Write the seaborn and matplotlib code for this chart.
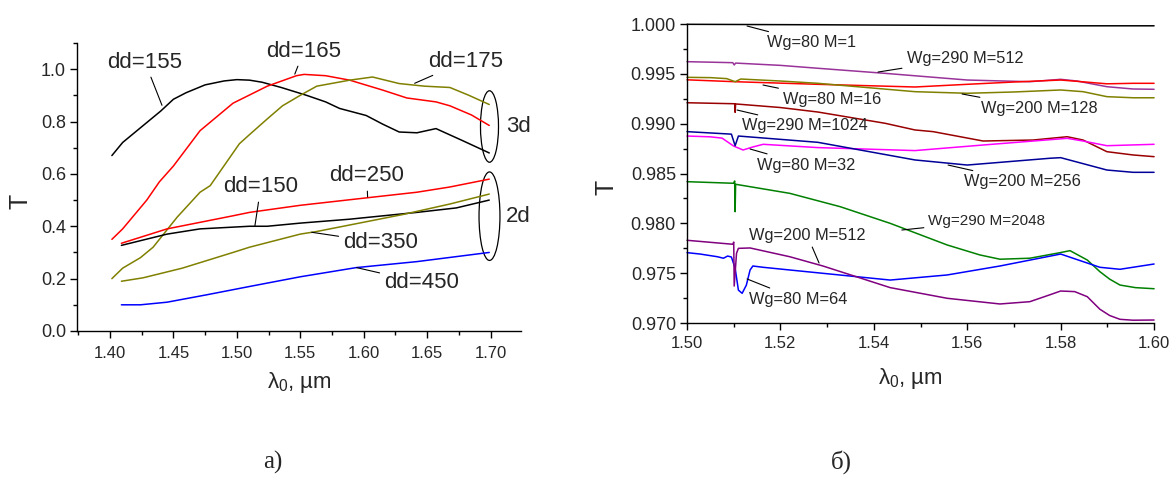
import matplotlib
matplotlib.use('Agg')
import matplotlib.pyplot as plt
from matplotlib.ticker import MultipleLocator, FormatStrFormatter
from matplotlib.patches import Ellipse
from matplotlib import font_manager
import seaborn as sns

# ---------------- panel a) : T vs wavelength ----------------
lam_155 = [1.4015, 1.41, 1.425, 1.44, 1.45, 1.46, 1.475, 1.49, 1.50, 1.51, 1.52, 1.535, 1.555,
           1.57, 1.581, 1.602, 1.615, 1.628, 1.642, 1.657, 1.678, 1.699]
t_155 = [0.67, 0.72, 0.78, 0.84, 0.885, 0.91, 0.94, 0.955, 0.96, 0.958, 0.95, 0.93, 0.90,
         0.875, 0.85, 0.823, 0.79, 0.76, 0.757, 0.773, 0.727, 0.68]
lam_165 = [1.4015, 1.41, 1.429, 1.439, 1.45, 1.471, 1.497, 1.524, 1.547, 1.553, 1.57, 1.589,
           1.615, 1.634, 1.657, 1.668, 1.685, 1.699]
t_165 = [0.35, 0.39, 0.50, 0.57, 0.63, 0.765, 0.87, 0.935, 0.975, 0.98, 0.975, 0.958,
         0.92, 0.89, 0.875, 0.86, 0.825, 0.785]
lam_175 = [1.4015, 1.41, 1.424, 1.434, 1.453, 1.471, 1.479, 1.502, 1.51, 1.524, 1.536, 1.55,
           1.563, 1.589, 1.607, 1.628, 1.648, 1.668, 1.683, 1.699]
t_175 = [0.20, 0.24, 0.28, 0.32, 0.435, 0.53, 0.555, 0.715, 0.75, 0.81, 0.86, 0.90,
         0.935, 0.958, 0.97, 0.945, 0.935, 0.93, 0.90, 0.865]
lam_250 = [1.409, 1.445, 1.497, 1.51, 1.55, 1.605, 1.642, 1.668, 1.699]
t_250 = [0.335, 0.39, 0.44, 0.453, 0.48, 0.51, 0.53, 0.55, 0.58]
lam_150 = [1.409, 1.445, 1.471, 1.51, 1.524, 1.55, 1.589, 1.642, 1.673, 1.699]
t_150 = [0.327, 0.37, 0.39, 0.40, 0.40, 0.412, 0.427, 0.453, 0.47, 0.50]
lam_350 = [1.409, 1.426, 1.457, 1.497, 1.51, 1.55, 1.563, 1.631, 1.668, 1.699]
t_350 = [0.19, 0.203, 0.24, 0.30, 0.32, 0.37, 0.38, 0.445, 0.485, 0.523]
lam_450 = [1.409, 1.424, 1.445, 1.476, 1.51, 1.55, 1.594, 1.642, 1.699]
t_450 = [0.10, 0.10, 0.11, 0.138, 0.17, 0.207, 0.242, 0.265, 0.30]

# ---------------- panel б) ----------------
lam_m1 = [1.50, 1.53, 1.5762, 1.60]
t_m1 = [0.99997, 0.99992, 0.99982, 0.99982]
lam_m512a = [1.50, 1.505, 1.5098, 1.5101, 1.5104, 1.52, 1.528, 1.5424, 1.56, 1.5734, 1.58,
             1.5835, 1.5899, 1.5955, 1.60]
t_m512a = [0.99622, 0.99617, 0.99612, 0.99589, 0.99608, 0.99585, 0.99556, 0.99505, 0.99438,
           0.99421, 0.99445, 0.99428, 0.99371, 0.99348, 0.99345]
lam_m16 = [1.50, 1.5103, 1.528, 1.5488, 1.56, 1.57, 1.58, 1.5835, 1.5899, 1.5955, 1.60]
t_m16 = [0.9944, 0.99421, 0.99395, 0.99368, 0.99395, 0.99418, 0.99438, 0.99425, 0.99400,
         0.99405, 0.99405]
lam_m128 = [1.50, 1.505, 1.5085, 1.5103, 1.5115, 1.52, 1.528, 1.5488, 1.56, 1.57, 1.58,
            1.5848, 1.5899, 1.5955, 1.60]
t_m128 = [0.99465, 0.99462, 0.99452, 0.99421, 0.99448, 0.99428, 0.99405, 0.99321, 0.99305,
          0.99318, 0.99338, 0.99321, 0.99271, 0.9926, 0.9926]
lam_m1024 = [1.50, 1.5102, 1.5103, 1.5104, 1.52, 1.528, 1.5424, 1.5488, 1.5527, 1.5634,
             1.5741, 1.5814, 1.5848, 1.5899, 1.5955, 1.60]
t_m1024 = [0.9921, 0.99200, 0.99114, 0.99198, 0.99162, 0.99117, 0.99004, 0.98937, 0.9892,
           0.98826, 0.98836, 0.98869, 0.98836, 0.98719, 0.98686, 0.98669]
lam_m32 = [1.50, 1.505, 1.5075, 1.510, 1.512, 1.514, 1.5163, 1.528, 1.5488, 1.5634, 1.5814,
           1.5848, 1.5899, 1.60]
t_m32 = [0.98876, 0.98868, 0.98855, 0.98775, 0.98736, 0.98765, 0.98793, 0.9876, 0.9873,
         0.98786, 0.98853, 0.98826, 0.98779, 0.98793]
lam_m256 = [1.50, 1.5095, 1.5103, 1.5110, 1.528, 1.5488, 1.56, 1.5777, 1.58, 1.5899, 1.5955, 1.60]
t_m256 = [0.9892, 0.98895, 0.98779, 0.98876, 0.98813, 0.98636, 0.98585, 0.98653, 0.98659,
          0.98535, 0.98512, 0.98512]
lam_m2048 = [1.50, 1.51, 1.5102, 1.5103, 1.5104, 1.522, 1.5328, 1.5435, 1.5557, 1.5627, 1.567,
             1.5734, 1.5799, 1.582, 1.5857, 1.5884, 1.5905, 1.5927, 1.596, 1.60]
t_m2048 = [0.98418, 0.98402, 0.98425, 0.98117, 0.98392, 0.98301, 0.98167, 0.98, 0.97783,
           0.97683, 0.9764, 0.9765, 0.97706, 0.97726, 0.97632, 0.97515, 0.9744, 0.97381,
           0.97355, 0.97344]
lam_m64 = [1.50, 1.5028, 1.5065, 1.5078, 1.5087, 1.5095, 1.5103, 1.5110, 1.5118, 1.5127,
           1.5135, 1.5141, 1.5163, 1.522, 1.5435, 1.5557, 1.567, 1.58, 1.5884, 1.5927, 1.60]
t_m64 = [0.97706, 0.97692, 0.97665, 0.9765, 0.97672, 0.97662, 0.9755, 0.9733, 0.97298, 0.9738,
         0.97532, 0.97572, 0.97559, 0.97532, 0.97431, 0.97482, 0.97572, 0.97692, 0.97559,
         0.97539, 0.97592]
lam_m512b = [1.50, 1.5098, 1.5100, 1.5101, 1.5106, 1.511, 1.5135, 1.522, 1.5291, 1.5435,
             1.5557, 1.567, 1.5734, 1.5775, 1.58, 1.583, 1.5857, 1.5884, 1.5905, 1.5927,
             1.5955, 1.60]
t_m512b = [0.9783, 0.9779, 0.97812, 0.97371, 0.97700, 0.97749, 0.97753, 0.97665, 0.97572,
           0.97355, 0.97248, 0.97191, 0.97214, 0.9728, 0.97321, 0.97315, 0.97264, 0.97138,
           0.97075, 0.97037, 0.97028, 0.9703]

sns.set_style('ticks')
plt.rcParams['font.family'] = ['Liberation Sans', 'DejaVu Sans']
plt.rcParams['mathtext.fontset'] = 'custom'
plt.rcParams['mathtext.rm'] = 'Liberation Sans'
plt.rcParams['mathtext.it'] = 'Liberation Sans'

names = {f.name for f in font_manager.fontManager.ttflist}
narrow = 'Liberation Sans Narrow' if 'Liberation Sans Narrow' in names else 'Liberation Sans'

fig = plt.figure(figsize=(11.72, 4.9), dpi=100)
ax1 = fig.add_axes([0.0657, 0.3245, 0.3788, 0.5878])
ax2 = fig.add_axes([0.5862, 0.3408, 0.3985, 0.6102])

lw = 1.1
left_curves = [(lam_155, t_155, 'black'), (lam_165, t_165, 'red'), (lam_175, t_175, '#808000'),
               (lam_250, t_250, 'red'), (lam_150, t_150, 'black'), (lam_350, t_350, '#808000'),
               (lam_450, t_450, 'blue')]
for x, y, c in left_curves:
    sns.lineplot(x=x, y=y, color=c, lw=lw, sort=False, estimator=None, ax=ax1)

right_curves = [(lam_m1, t_m1, 'black'), (lam_m512a, t_m512a, '#993399'),
                (lam_m16, t_m16, 'red'), (lam_m128, t_m128, '#808000'),
                (lam_m1024, t_m1024, '#990000'), (lam_m32, t_m32, '#ff00ff'),
                (lam_m256, t_m256, '#000099'), (lam_m2048, t_m2048, '#008000'),
                (lam_m64, t_m64, 'blue'), (lam_m512b, t_m512b, '#800080')]
for x, y, c in right_curves:
    sns.lineplot(x=x, y=y, color=c, lw=lw, sort=False, estimator=None, ax=ax2, clip_on=False)

arrow = dict(arrowstyle='-', color='black', lw=0.8, shrinkA=1, shrinkB=0)

# labels for panel a)
left_notes = [('dd=155', (1.4276, 1.027), (1.441, 0.862)),
              ('dd=165', (1.5528, 1.069), (1.5457, 0.981)),
              ('dd=175', (1.6803, 1.031), (1.6402, 0.946)),
              ('dd=150', (1.5189, 0.55), (1.5142, 0.40)),
              ('dd=250', (1.6024, 0.592), (1.6031, 0.512)),
              ('dd=350', (1.6134, 0.338), (1.559, 0.377)),
              ('dd=450', (1.6457, 0.185), (1.5945, 0.242))]
for s, xyt, xy in left_notes:
    ax1.annotate(s, xy=xy, xytext=xyt, ha='center', va='center', fontsize=16, arrowprops=arrow)

ax1.add_patch(Ellipse((1.6992, 0.781), 0.0142, 0.273, fill=False, ec='black', lw=0.9, clip_on=False))
ax1.add_patch(Ellipse((1.6992, 0.4385), 0.0165, 0.338, fill=False, ec='black', lw=0.9, clip_on=False))
ax1.text(1.7125, 0.781, '3d', ha='left', va='center', fontsize=16)
ax1.text(1.7125, 0.4385, '2d', ha='left', va='center', fontsize=16)

# labels for panel б)
right_notes = [('Wg=80 M=1', (1.52655, 0.99812), (1.51285, 0.9998), 11.8),
               ('Wg=290 M=512', (1.5595, 0.99656), (1.5409, 0.99518), 11.8),
               ('Wg=80 M=16', (1.5310, 0.99245), (1.51627, 0.99388), 11.8),
               ('Wg=200 M=128', (1.57537, 0.99154), (1.55889, 0.99298), 11.8),
               ('Wg=290 M=1024', (1.52527, 0.98977), (1.51071, 0.99137), 11.8),
               ('Wg=80 M=32', (1.52548, 0.98585), (1.51349, 0.98746), 11.8),
               ('Wg=200 M=256', (1.57173, 0.98418), (1.55589, 0.98585), 11.8),
               ('Wg=290 M=2048', (1.56424, 0.98023), (1.5460, 0.97933), 11.0),
               ('Wg=200 M=512', (1.5257, 0.97883), (1.52827, 0.97602), 11.8),
               ('Wg=80 M=64', (1.52377, 0.97238), (1.51285, 0.97442), 11.8)]
for s, xyt, xy, fs in right_notes:
    ax2.annotate(s, xy=xy, xytext=xyt, ha='center', va='center', fontsize=fs, arrowprops=arrow)

# axes formatting
ax1.set_xlim(1.374, 1.724)
ax1.set_ylim(0, 1.1)
ax1.xaxis.set_major_locator(MultipleLocator(0.05))
ax1.xaxis.set_minor_locator(MultipleLocator(0.025))
ax1.yaxis.set_major_locator(MultipleLocator(0.2))
ax1.yaxis.set_minor_locator(MultipleLocator(0.1))
ax1.xaxis.set_major_formatter(FormatStrFormatter('%.2f'))
ax1.yaxis.set_major_formatter(FormatStrFormatter('%.1f'))

ax2.set_xlim(1.50, 1.60)
ax2.set_ylim(0.970, 1.000)
ax2.xaxis.set_major_locator(MultipleLocator(0.02))
ax2.xaxis.set_minor_locator(MultipleLocator(0.01))
ax2.yaxis.set_major_locator(MultipleLocator(0.005))
ax2.yaxis.set_minor_locator(MultipleLocator(0.0025))
ax2.xaxis.set_major_formatter(FormatStrFormatter('%.2f'))
ax2.yaxis.set_major_formatter(FormatStrFormatter('%.3f'))

for ax in (ax1, ax2):
    sns.despine(ax=ax)
    for sp in ('left', 'bottom'):
        ax.spines[sp].set_color('black')
        ax.spines[sp].set_linewidth(1.0)
    ax.tick_params(which='major', direction='out', length=5, width=1.0, color='black')
    ax.tick_params(which='minor', direction='out', length=3, width=1.0, color='black')
    ax.tick_params(axis='y', labelsize=13, pad=3)
    ax.tick_params(axis='x', labelsize=12)
    for lab in ax.get_xticklabels():
        lab.set_family(narrow)

ax1.tick_params(axis='x', pad=6)
ax2.tick_params(axis='x', pad=4)

ax1.set_ylabel('T', fontsize=18, va='center')
ax1.yaxis.set_label_coords(-0.128, 0.449)
ax1.set_xlabel('λ$_0$, µm', fontsize=16, family=narrow, va='center')
ax1.xaxis.set_label_coords(0.5, -0.18)
ax2.set_ylabel('T', fontsize=18, va='center')
ax2.yaxis.set_label_coords(-0.173, 0.452)
ax2.set_xlabel('λ$_0$, µm', fontsize=16, family=narrow, va='center')
ax2.xaxis.set_label_coords(0.4775, -0.184)

fig.text(0.233, 0.057, 'а)', ha='center', va='center', fontsize=18, family='Liberation Serif')
fig.text(0.7176, 0.057, 'б)', ha='center', va='center', fontsize=18, family='Liberation Serif')

fig.savefig('out.png', dpi=100)
